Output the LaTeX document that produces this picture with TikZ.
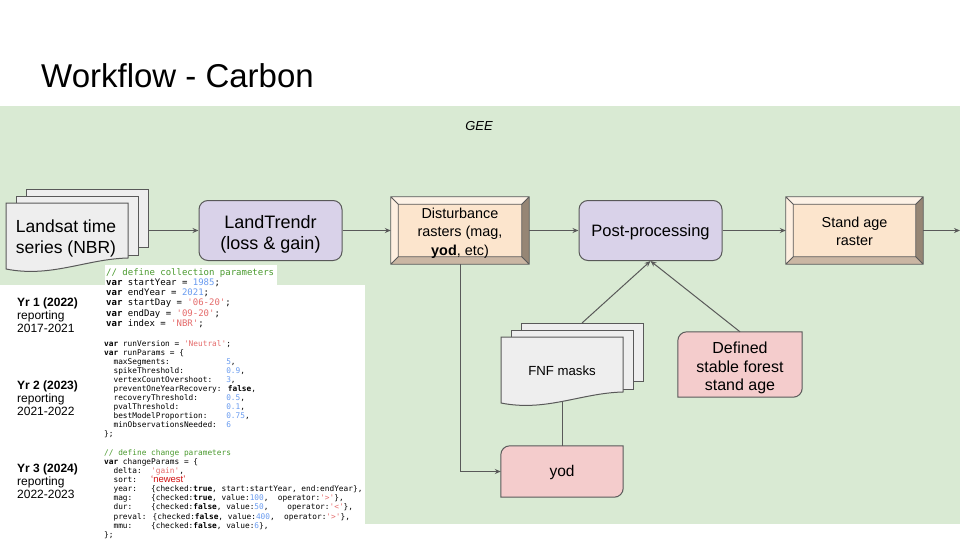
\documentclass[tikz,border=0pt]{standalone}
\usepackage{fontspec}
\setmainfont{Liberation Sans}
\newfontfamily\codefont[Ligatures=TeXOff]{DejaVu Sans Mono}
\usetikzlibrary{arrows.meta,calc,backgrounds}
\definecolor{bggreen}{HTML}{D9EAD3}
\definecolor{lnc}{HTML}{595959}
\definecolor{lav}{HTML}{D9D2E9}
\definecolor{peach}{HTML}{FCE5CD}
\definecolor{pinkf}{HTML}{F4CCCC}
\definecolor{docf}{HTML}{EEEEEE}
\definecolor{bvtop}{HTML}{FDF2E6}
\definecolor{bvleft}{HTML}{FEEFE0}
\definecolor{bvright}{HTML}{968675}
\definecolor{bvbot}{HTML}{CAB6A3}
\definecolor{ccom}{HTML}{4A9A2E}
\definecolor{cnum}{HTML}{6A9CF0}
\definecolor{cstr}{HTML}{E56B6B}
\definecolor{cnew}{HTML}{D01010}
\newcommand\CCm[1]{\textcolor{ccom}{#1}}
\newcommand\CNum[1]{\textcolor{cnum}{#1}}
\newcommand\CStr[1]{\textcolor{cstr}{#1}}
\newcommand\CKw[1]{\textbf{#1}}
\newcommand\CSp[1]{\hspace*{#1\fontcharwd\font`x}}
\newcommand\docstack[2]{%
  \filldraw[docsh] (#1+20,#2-14) rectangle (#1+142,#2+44);
  \filldraw[docsh] (#1+10,#2-7) rectangle (#1+132,#2+52);
  \filldraw[docsh] (#1,#2) -- (#1+122,#2) -- (#1+122,#2+55) .. controls (#1+80,#2+56) and (#1+45,#2+75) .. (#1,#2+66) -- cycle;}
\newcommand\bevelize[2]{%
  \fill[bvtop] (#1.north west) -- (#1.north east) -- ($(#1.north east)+(-#2,#2)$) -- ($(#1.north west)+(#2,#2)$) -- cycle;
  \fill[bvleft] (#1.north west) -- ($(#1.north west)+(#2,#2)$) -- ($(#1.south west)+(#2,-#2)$) -- (#1.south west) -- cycle;
  \fill[bvright] (#1.north east) -- ($(#1.north east)+(-#2,#2)$) -- ($(#1.south east)+(-#2,-#2)$) -- (#1.south east) -- cycle;
  \fill[bvbot] (#1.south west) -- ($(#1.south west)+(#2,-#2)$) -- ($(#1.south east)+(-#2,-#2)$) -- (#1.south east) -- cycle;
  \fill[peach] ($(#1.north west)+(#2,#2)$) rectangle ($(#1.south east)+(-#2,-#2)$);
  \draw[lnc, line width=0.8pt] (#1.north west) rectangle (#1.south east)
    ($(#1.north west)+(#2,#2)$) rectangle ($(#1.south east)+(-#2,-#2)$)
    (#1.north west) -- ($(#1.north west)+(#2,#2)$)
    (#1.north east) -- ($(#1.north east)+(-#2,#2)$)
    (#1.south west) -- ($(#1.south west)+(#2,-#2)$)
    (#1.south east) -- ($(#1.south east)+(-#2,-#2)$);}
\newcommand\diagbox[1]{%
  \filldraw[fill=pinkf, draw=lnc, line width=1pt] (#1.west) [rounded corners=9pt] -- (#1.north west) -- (#1.north) [sharp corners] -- (#1.north east) -- (#1.east) [rounded corners=9pt] -- (#1.south east) -- (#1.south) [sharp corners] -- (#1.south west) -- cycle;}
\begin{document}
\begin{tikzpicture}[x=1pt,y=-1pt,
  docsh/.style={fill=docf, draw=lnc, line width=1pt},
  conn/.style={draw=lnc, line width=1pt, -{Stealth[length=6pt,width=5pt]}},
  plainln/.style={draw=lnc, line width=1pt},
  rrect/.style={draw=lnc, line width=1pt, fill=lav, rounded corners=9pt, minimum width=143pt, minimum height=60pt, align=center, inner sep=0pt},
  bevelbox/.style={minimum width=138pt, minimum height=67pt, inner sep=0pt, align=center, font=\fontsize{14.4}{18.5}\selectfont},
  pinkbox/.style={inner sep=0pt, align=center},
  lbl/.style={anchor=base west, inner sep=0pt, font=\fontsize{12}{14}\selectfont},
  codeA/.style={anchor=base west, inner sep=0pt, font=\codefont\fontsize{9}{10}\selectfont},
  codeB/.style={anchor=base west, inner sep=0pt, font=\codefont\fontsize{7.8}{9}\selectfont}]
\useasboundingbox (0,0) rectangle (960,540);
\begin{scope}[on background layer]
  \fill[white] (0,0) rectangle (960,540);
  \fill[bggreen] (0,106) rectangle (960,524);
  \fill[white] (0,285) rectangle (365,540);
  \fill[white] (105,265) rectangle (277,285);
\end{scope}

% title
\node[anchor=base west, inner sep=0pt, font=\fontsize{33}{38}\selectfont] (title) at (41,88) {Workflow - Carbon};
\node[inner sep=0pt, font=\itshape\fontsize{13}{15}\selectfont] (gee) at (479,126) {GEE};

% main nodes
\node[inner sep=0pt, align=center, font=\fontsize{17.5}{20.5}\selectfont] (landsat) at (66,236) {\rule{0pt}{17.5pt}Landsat time\\series (NBR)};
\coordinate (landsatR) at (148,230.5);
\node[rrect, font=\fontsize{18}{21}\selectfont] (lt) at (270.5,230.5) {\rule{0pt}{21pt}LandTrendr\\(loss \& gain)};
\node[bevelbox] (dist) at (460,230.5) {\rule{0pt}{15.5pt}Disturbance\\rasters (mag,\\\textbf{yod}, etc)};
\node[rrect, font=\fontsize{16.5}{20}\selectfont] (post) at (650.5,230.5) {\rule{0pt}{16pt}Post-processing};
\node[bevelbox, minimum width=137pt] (stand) at (854.5,230.5) {\rule{0pt}{12.5pt}Stand age\\raster};
\coordinate (outR) at (960,230.5);
\node[inner sep=0pt, font=\fontsize{13.2}{16}\selectfont] (fnf) at (562,371) {FNF masks};
\coordinate (fnfTop) at (582,323);
\coordinate (fnfBot) at (562,401);
\node[pinkbox, minimum width=124pt, minimum height=65pt, font=\fontsize{16}{18.7}\selectfont] (def) at (740,364.5) {\rule{0pt}{18.5pt}Defined\\stable forest\\stand age};
\node[pinkbox, minimum width=122pt, minimum height=51pt, font=\fontsize{15.5}{18}\selectfont] (yod) at (562,471.5) {\rule{0pt}{13pt}yod};

\begin{scope}[on background layer]
  \docstack{6}{203}
  \docstack{501}{337}
  \bevelize{dist}{7.5}
  \bevelize{stand}{7.5}
  \diagbox{def}
  \diagbox{yod}
\end{scope}

% connectors
\draw[conn] (landsatR) -- (lt.west);
\draw[conn] (lt.east) -- (dist.west);
\draw[conn] (dist.east) -- (post.west);
\draw[conn] (post.east) -- (stand.west);
\draw[conn] (stand.east) -- (outR);
\draw[conn] (dist.south) |- (yod.west);
\draw[plainln] (fnfBot) -- (yod.north);
\draw[conn] (fnfTop) -- (post.south);
\draw[conn] (def.north) -- (post.south);

% left labels
\node[lbl] (y1a) at (17,306) {\bfseries Yr 1 (2022)};
\node[lbl] (y1b) at (17,319.3) {reporting};
\node[lbl] (y1c) at (17,332.6) {2017-2021};
\node[lbl] (y2a) at (17,389) {\bfseries Yr 2 (2023)};
\node[lbl] (y2b) at (17,402.3) {reporting};
\node[lbl] (y2c) at (17,415.6) {2021-2022};
\node[lbl] (y3a) at (17,472) {\bfseries Yr 3 (2024)};
\node[lbl] (y3b) at (17,485.3) {reporting};
\node[lbl] (y3c) at (17,498.6) {2022-2023};

% code block 1
\foreach \t [count=\i from 0] in {
  {\CCm{// define collection parameters}},
  {\CKw{var} startYear = \CNum{1985};},
  {\CKw{var} endYear = \CNum{2021};},
  {\CKw{var} startDay = \CStr{'06-20'};},
  {\CKw{var} endDay = \CStr{'09-20'};},
  {\CKw{var} index = \CStr{'NBR'};}}
  \node[codeA] (ca\i) at (106,{275+10.3*\i}) {\t};

% code block 2
\foreach \t [count=\i from 0] in {
  {\CKw{var} runVersion = \CStr{'Neutral'};},
  {\CKw{var} runParams = \{},
  {\CSp{2}maxSegments:\CSp{12}\CNum{5},},
  {\CSp{2}spikeThreshold:\CSp{9}\CNum{0.9},},
  {\CSp{2}vertexCountOvershoot:\CSp{3}\CNum{3},},
  {\CSp{2}preventOneYearRecovery: \CKw{false},},
  {\CSp{2}recoveryThreshold:\CSp{6}\CNum{0.5},},
  {\CSp{2}pvalThreshold:\CSp{10}\CNum{0.1},},
  {\CSp{2}bestModelProportion:\CSp{4}\CNum{0.75},},
  {\CSp{2}minObservationsNeeded:\CSp{2}\CNum{6}},
  {\};}}
  \node[codeB] (cb\i) at (104,{346+9*\i}) {\t};

% code block 3
\foreach \t [count=\i from 0] in {
  {\CCm{// define change parameters}},
  {\CKw{var} changeParams = \{},
  {\CSp{2}delta:\CSp{2}\CStr{'gain'},},
  {\CSp{2}sort:\CSp{3}\textcolor{cnew}{\rmfamily\fontsize{9.5}{10}\selectfont ‘newest’}},
  {\CSp{2}year:\CSp{3}\{checked:\CKw{true}, start:startYear, end:endYear\},},
  {\CSp{2}mag:\CSp{4}\{checked:\CKw{true}, value:\CNum{100},\CSp{2}operator:\CStr{'>'}\},},
  {\CSp{2}dur:\CSp{4}\{checked:\CKw{false}, value:\CNum{50},\CSp{4}operator:\CStr{'<'}\},},
  {\CSp{2}preval: \{checked:\CKw{false}, value:\CNum{400},\CSp{2}operator:\CStr{'>'}\},},
  {\CSp{2}mmu:\CSp{4}\{checked:\CKw{false}, value:\CNum{6}\},},
  {\};}}
  \node[codeB] (cc\i) at (104,{455+9.15*\i}) {\t};
\end{tikzpicture}
\end{document}
